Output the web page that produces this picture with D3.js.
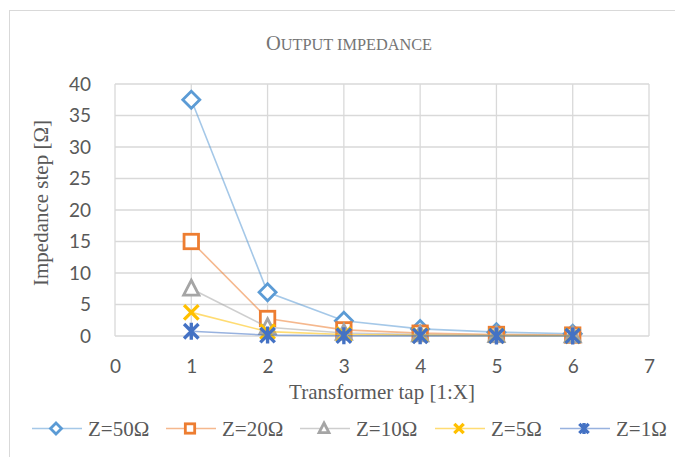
<!DOCTYPE html>
<html>
<head>
<meta charset="utf-8">
<script src="https://cdn.jsdelivr.net/npm/d3@7"></script>
<style>
  html, body { margin: 0; padding: 0; background: #fff; }
  svg { display: block; }
</style>
</head>
<body>
<svg id="chart" width="675" height="457"></svg>
<script>
// Transformer taps (x values)
const taps = [1, 2, 3, 4, 5, 6];

// Impedance step per tap for each source impedance [Ω]
const z50 = [37.5, 6.94, 2.43, 1.125, 0.611, 0.369];
const z20 = [15.0, 2.78, 0.972, 0.45, 0.244, 0.147];
const z10 = [7.5, 1.39, 0.486, 0.225, 0.122, 0.074];
const z5  = [3.75, 0.694, 0.243, 0.113, 0.061, 0.037];
const z1  = [0.75, 0.139, 0.049, 0.023, 0.012, 0.007];

const seriesNames = ["Z=50Ω", "Z=20Ω", "Z=10Ω", "Z=5Ω", "Z=1Ω"];
const seriesValues = [z50, z20, z10, z5, z1];
const seriesColors = ["#5B9BD5", "#ED7D31", "#A5A5A5", "#FFC000", "#4472C4"];
const seriesMarkers = ["diamond", "square", "triangle", "cross", "star"];

const xTicks = [0, 1, 2, 3, 4, 5, 6, 7];
const yTicks = [0, 5, 10, 15, 20, 25, 30, 35, 40];

const svg = d3.select("#chart");
const serif = "'Liberation Serif', 'Times New Roman', serif";
const tickFont = "Lato, 'Open Sans', sans-serif";

// outer chart frame
svg.append("rect")
  .attr("x", 9.5).attr("y", 10.5)
  .attr("width", 700).attr("height", 500)
  .attr("fill", "#fff").attr("stroke", "#d9d9d9").attr("stroke-width", 1);

const x = d3.scaleLinear().domain([0, 7]).range([115, 649]);
const y = d3.scaleLinear().domain([0, 40]).range([336, 84]);

// title in small capitals
const title = svg.append("text")
  .attr("x", 349).attr("y", 50)
  .attr("text-anchor", "middle")
  .style("font-family", serif)
  .attr("fill", "#757575");
title.append("tspan").style("font-size", "20.5px").text("O");
title.append("tspan").style("font-size", "16.3px").text("UTPUT IMPEDANCE");

// grid
const grid = svg.append("g");
grid.selectAll("line.h").data(yTicks).join("line")
  .attr("x1", x(0)).attr("x2", x(7))
  .attr("y1", d => y(d)).attr("y2", d => y(d))
  .attr("stroke", "#d9d9d9").attr("stroke-width", 1.3);
grid.selectAll("line.v").data(xTicks).join("line")
  .attr("y1", y(0)).attr("y2", y(40))
  .attr("x1", d => x(d)).attr("x2", d => x(d))
  .attr("stroke", "#d9d9d9").attr("stroke-width", 1.3);

// axes (labels only)
const yAxis = svg.append("g").attr("transform", `translate(${x(0) - 24},0)`)
  .call(d3.axisLeft(y).tickValues(yTicks).tickFormat(d3.format("d")).tickSize(0).tickPadding(0));
yAxis.select(".domain").remove();
yAxis.selectAll("text")
  .style("font-family", tickFont).style("font-size", "19px").attr("fill", "#595959");

const xAxis = svg.append("g").attr("transform", `translate(0,${y(0) + 23})`)
  .call(d3.axisBottom(x).tickValues(xTicks).tickFormat(d3.format("d")).tickSize(0).tickPadding(0));
xAxis.select(".domain").remove();
xAxis.selectAll("text")
  .style("font-family", tickFont).style("font-size", "19px").attr("fill", "#595959");

// axis titles
svg.append("text")
  .attr("x", 382).attr("y", 399)
  .attr("text-anchor", "middle")
  .style("font-family", serif).style("font-size", "21px")
  .attr("fill", "#595959")
  .text("Transformer tap [1:X]");

svg.append("text")
  .attr("transform", `translate(48,203) rotate(-90)`)
  .attr("text-anchor", "middle")
  .style("font-family", serif).style("font-size", "21px")
  .attr("fill", "#595959")
  .text("Impedance step [Ω]");

// marker drawing
function drawMarker(g, type, color, s, sw) {
  const h = s / 2;
  if (type === "diamond") {
    g.append("path").attr("d", `M0,${-h}L${h},0L0,${h}L${-h},0Z`)
      .attr("fill", "#fff").attr("stroke", color).attr("stroke-width", sw);
  } else if (type === "square") {
    const q = h * 0.85;
    g.append("rect").attr("x", -q).attr("y", -q).attr("width", 2 * q).attr("height", 2 * q)
      .attr("fill", "#fff").attr("stroke", color).attr("stroke-width", sw);
  } else if (type === "triangle") {
    g.append("path").attr("d", `M0,${-h}L${h * 0.9},${h * 0.75}L${-h * 0.9},${h * 0.75}Z`)
      .attr("fill", "#fff").attr("stroke", color).attr("stroke-width", sw);
  } else if (type === "cross") {
    const q = h * 0.85;
    g.append("path").attr("d", `M${-q},${-q}L${q},${q}M${q},${-q}L${-q},${q}`)
      .attr("fill", "none").attr("stroke", color).attr("stroke-width", sw * 1.2);
  } else if (type === "star") {
    const q = h * 0.85;
    g.append("path").attr("d", `M${-q},${-q}L${q},${q}M${q},${-q}L${-q},${q}M0,${-h}L0,${h}`)
      .attr("fill", "none").attr("stroke", color).attr("stroke-width", sw * 1.2);
  }
}

const line = d3.line().x((d, i) => x(taps[i])).y(d => y(d));

seriesValues.forEach((vals, si) => {
  const color = seriesColors[si];
  const g = svg.append("g");
  g.append("path").datum(vals).attr("d", line)
    .attr("fill", "none").attr("stroke", color)
    .attr("stroke-opacity", 0.55).attr("stroke-width", 1.6);
  vals.forEach((v, i) => {
    const mg = g.append("g").attr("transform", `translate(${x(taps[i])},${y(v)})`);
    drawMarker(mg, seriesMarkers[si], color, 17, 2.8);
  });
});

// legend
const legendX = [32, 166, 300, 435, 560];
const legendY = 428.5;
seriesNames.forEach((name, si) => {
  const color = seriesColors[si];
  const lg = svg.append("g").attr("transform", `translate(${legendX[si]},${legendY})`);
  lg.append("line").attr("x1", 0).attr("x2", 50).attr("y1", 0).attr("y2", 0)
    .attr("stroke", color).attr("stroke-opacity", 0.55).attr("stroke-width", 1.6);
  const mg = lg.append("g").attr("transform", "translate(24,0)");
  drawMarker(mg, seriesMarkers[si], color, 11, 2.8);
  lg.append("text").attr("x", 56).attr("y", 7.5)
    .style("font-family", serif).style("font-size", "21px")
    .attr("fill", "#595959").text(name);
});
</script>
</body>
</html>
